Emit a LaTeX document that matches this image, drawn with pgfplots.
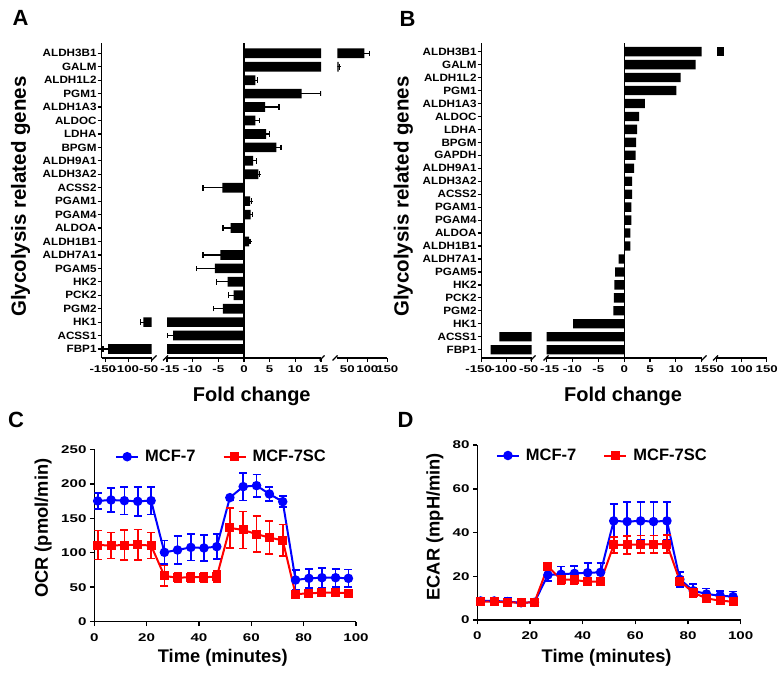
\documentclass[border=0pt]{standalone}
\usepackage{fontspec}
\setmainfont{Liberation Sans}
\newfontfamily\tickfont[FakeStretch=1.1]{Liberation Sans}
\newfontfamily\numfont[FakeStretch=1.35]{Liberation Sans}
\usepackage{pgfplots}
\usepackage{pgfplotstable}
\pgfplotsset{compat=1.18}
\newcommand{\tf}[1]{\tickfont\bfseries\fontsize{#1}{#1}\selectfont}
\newcommand{\nf}[1]{\numfont\bfseries\fontsize{#1}{#1}\selectfont}
\newcommand{\tl}[1]{\bfseries\fontsize{#1}{#1}\selectfont}

% fold change, panel A (with error bars)
\pgfplotstableread{
y val ep em
22 92.5 12.5 0
21 28 2 0
20 2.2 0.4 0
19 11.2 3.8 0
18 4.1 2.7 0
17 2.2 0.8 0
16 4.3 0.6 0
15 6.3 0.9 0
14 1.8 0.6 0
13 2.8 0.2 0
12 -4.2 0 3.8
11 1.2 0.2 0
10 1.3 0.3 0
9 -2.6 0 1.5
8 1.0 0.15 0
7 -4.6 0 3.4
6 -5.7 0 3.6
5 -3.2 0 2.1
4 -2.0 0 1.0
3 -4.1 0 1.9
2 -68 0 6
1 -13.8 0 1.2
0 -145 0 11
}\dataA

% fold change, panel B
\pgfplotstableread{
y val
23 65
22 13.8
21 10.9
20 10.1
19 4.0
18 2.9
17 2.5
16 2.3
15 2.2
14 1.9
13 1.55
12 1.55
11 1.4
10 1.4
9 1.2
8 1.2
7 -1.1
6 -1.75
5 -1.9
4 -2.0
3 -2.1
2 -9.9
1 -114.8
0 -132
}\dataB

% OCR
\pgfplotstableread{
t blue be red re
1.3 175.1 12 111.2 21
6.4 176.5 17 110.5 19
11.5 175.5 20 111.2 22
16.6 174.6 21 111.5 22
21.7 175.5 20 110.5 19
26.8 100.6 17 66.3 15
31.8 104.0 20 63.8 7
36.9 107.8 19 64.5 7
41.9 106.9 19 64.5 7
46.8 108.8 18 65.3 8
51.8 179.9 3 136 29
56.9 195.9 20 133 27
62.0 197.3 16 127 26
66.9 185.2 10 122 24
72.0 174.1 8 118 23
76.9 60.5 14 40.0 4
82.0 62.9 14 41.1 4
87.0 63.8 14 42.1 4
92.2 63.8 13 42.1 3
97.1 62.9 13 41.5 4
}\dataC

% ECAR
\pgfplotstableread{
t blue be red re
1.3 8.7 1 8.4 1
6.4 8.7 1 8.4 1
11.5 8.4 1.5 8.1 1
16.6 7.9 1.5 7.9 1
21.7 8.1 1 8.1 1
26.8 20.6 2.7 24.4 1
31.8 20.9 3.5 18.6 2
36.9 21.3 3.4 18.3 2
41.9 21.6 4.3 17.5 1.5
46.8 21.8 4.4 17.5 1.5
51.8 45.3 7.6 34.3 3.8
56.9 45.0 8.8 34.3 4
62.0 45.3 8.8 34.6 4
66.9 45.0 8.8 34.6 4
72.0 45.3 8.5 34.7 4
76.9 18.6 3.5 17.8 2
82.0 13.4 3 12.5 2
87.0 11.9 2.5 9.9 1.5
92.2 11.1 2.3 8.8 1.5
97.1 10.7 2.3 8.4 1.5
}\dataD

\pgfplotsset{
  seg/.style={scale only axis, anchor=south west, axis x line*=bottom,
    axis line style={line width=1.2pt, black}, tick style={line width=1.2pt, black},
    tick align=outside, major tick length=4pt,
    xticklabel style={font=\nf{9.8}, inner sep=1pt, yshift=-2.5pt}, yticklabel style={font=\tf{10.6}, inner sep=1pt},
    height=315.3pt},
  segA/.style={seg, ymin=-0.67, ymax=22.79},
  segB/.style={seg, ymin=-0.64, ymax=23.69},
  barsA/.style={xbar, fill=black, draw=none, bar width=0.72,
    error bars/.cd, x dir=both, x explicit,
    error bar style={line width=1.2pt, black},
    error mark options={rotate=90, line width=1.2pt, mark size=2.8pt, black}},
  barsB/.style={xbar, fill=black, draw=none, bar width=0.72},
  line/.style={scale only axis, anchor=south west, axis x line*=bottom, axis y line*=left,
    axis line style={line width=1.5pt, black}, tick style={line width=1.5pt, black},
    tick align=outside, major tick length=4.3pt,
    /pgf/number format/assume math mode=true,
    ticklabel style={font=\nf{11.2}},
    xticklabel style={yshift=-4pt},
    xmin=0, xmax=100, xtick={0,20,...,100},
    label style={font=\tl{18.3}},
    legend columns=2,
    legend style={draw=none, fill=none, inner sep=0pt, font=\tl{16.5},
      nodes={inner sep=0pt},
      /tikz/every odd column/.append style={column sep=6pt},
      /tikz/every even column/.append style={column sep=27pt}},
    legend image code/.code={\draw[mark repeat=2, mark phase=2, #1] plot coordinates {(0pt,0pt) (11pt,0pt) (22pt,0pt)};}},
  bl/.style={blue, line width=2pt, mark=*, mark size=3.7pt, mark options={solid},
    error bars/.cd, y dir=both, y explicit,
    error bar style={line width=1.7pt, blue}, error mark options={rotate=90, line width=1.7pt, mark size=4pt, blue}},
  rd/.style={red, line width=2pt, mark=square*, mark size=3.5pt, mark options={solid},
    error bars/.cd, y dir=both, y explicit,
    error bar style={line width=1.7pt, red}, error mark options={rotate=90, line width=1.7pt, mark size=4pt, red}},
}

\begin{document}
\begin{tikzpicture}
\path[use as bounding box] (0,0) rectangle (782pt,-679pt);

% ---------- A ----------
\begin{axis}[segA, at={(101.7pt,-358pt)}, width=50pt, axis y line*=left,
  xmin=-159, xmax=-50, xtick={-150,-100,-50}, xticklabels={-150,-100,-50},
  xticklabel style={xshift=-3pt},
  ytick={0,...,22},
  yticklabels={FBP1,ACSS1,HK1,PGM2,PCK2,HK2,PGAM5,ALDH7A1,ALDH1B1,ALDOA,PGAM4,PGAM1,ACSS2,ALDH3A2,ALDH9A1,BPGM,LDHA,ALDOC,ALDH1A3,PGM1,ALDH1L2,GALM,ALDH3B1}]
\addplot[restrict x to domain=-1000:-50, barsA] table[x=val, y=y, x error plus=ep, x error minus=em]{\dataA};
\end{axis}
\begin{axis}[segA, at={(167pt,-358pt)}, width=154pt, axis y line=none,
  xmin=-15, xmax=15, xtick={-15,-10,-5,0,5,10,15}, xticklabels={\hspace{6pt}-15,-10,-5,0,5,10,15}]
\addplot[barsA] table[x=val, y=y, x error plus=ep, x error minus=em]{\dataA};
\addplot[black, line width=1.2pt] coordinates {(0,-0.67) (0,22.79)};
\end{axis}
\begin{axis}[segA, at={(337.3pt,-358pt)}, width=50pt, axis y line=none,
  xmin=25, xmax=150, xtick={50,100,150}, xticklabels={50,100,150}]
\addplot[restrict x to domain=25:1000, barsA] table[x=val, y=y, x error plus=ep, x error minus=em]{\dataA};
\end{axis}

% ---------- B ----------
\begin{axis}[segB, at={(481.7pt,-358pt)}, width=50pt, axis y line*=left,
  xmin=-150, xmax=-50, xtick={-150,-100,-50}, xticklabels={-150,-100,-50},
  xticklabel style={xshift=-3pt},
  ytick={0,...,23},
  yticklabels={FBP1,ACSS1,HK1,PGM2,PCK2,HK2,PGAM5,ALDH7A1,ALDH1B1,ALDOA,PGAM4,PGAM1,ACSS2,ALDH3A2,ALDH9A1,GAPDH,BPGM,LDHA,ALDOC,ALDH1A3,PGM1,ALDH1L2,GALM,ALDH3B1}]
\addplot[restrict x to domain=-1000:-50, barsB] table[x=val, y=y]{\dataB};
\end{axis}
\begin{axis}[segB, at={(546.7pt,-358pt)}, width=155pt, axis y line=none,
  xmin=-15, xmax=15, xtick={-15,-10,-5,0,5,10,15}, xticklabels={\hspace{6pt}-15,-10,-5,0,5,10,15}]
\addplot[barsB] table[x=val, y=y]{\dataB};
\addplot[black, line width=1.2pt] coordinates {(0,-0.64) (0,23.69)};
\end{axis}
\begin{axis}[segB, at={(716.7pt,-358pt)}, width=50pt, axis y line=none,
  xmin=50, xmax=150, xtick={50,100,150}, xticklabels={50,100,150}]
\addplot[restrict x to domain=50:1000, barsB] table[x=val, y=y]{\dataB};
\end{axis}

% axis breaks
\foreach \bx in {151.5,163,319.5,332.5,530.5,543.5,701.5,713}
  \draw[line width=1.1pt] (\bx pt,-360.5pt) -- (\bx pt+5pt,-355.5pt);

\node[font=\tl{20}] at (251.7pt,-396.7pt) {Fold change};
\node[font=\tl{20}] at (623pt,-396.7pt) {Fold change};
\node[font=\tl{20.5}, rotate=90] at (20.7pt,-196.7pt) {Glycolysis related genes};
\node[font=\tl{20.5}, rotate=90] at (403.3pt,-196.7pt) {Glycolysis related genes};

% ---------- C ----------
\begin{axis}[line, at={(94.3pt,-621.7pt)}, width=261.7pt, height=172.4pt,
  ymin=0, ymax=250, ytick={0,50,...,250},
  xlabel={Time (minutes)}, ylabel={OCR (pmol/min)},
  xlabel style={at={(axis description cs:0.491,-0.212)}, anchor=center},
  ylabel style={at={(axis description cs:-0.195,0.542)}, anchor=center},
  legend style={at={(0.079,0.957)}, anchor=west}]
\addplot[bl] table[x=t, y=blue, y error=be]{\dataC};
\addplot[rd] table[x=t, y=red, y error=re]{\dataC};
\legend{MCF-7, MCF-7SC}
\end{axis}

% ---------- D ----------
\begin{axis}[line, at={(477.3pt,-620pt)}, width=263.4pt, height=175pt,
  ymin=0, ymax=80, ytick={0,20,...,80},
  xlabel={Time (minutes)}, ylabel={ECAR (mpH/min)},
  xlabel style={at={(axis description cs:0.491,-0.217)}, anchor=center},
  ylabel style={at={(axis description cs:-0.161,0.533)}, anchor=center},
  legend style={at={(0.07,0.94)}, anchor=west}]
\addplot[bl] table[x=t, y=blue, y error=be]{\dataD};
\addplot[rd] table[x=t, y=red, y error=re]{\dataD};
\legend{MCF-7, MCF-7SC}
\end{axis}

\node[font=\tl{22}] at (20.5pt,-18.3pt) {A};
\node[font=\tl{22}] at (407.5pt,-18.5pt) {B};
\node[font=\tl{22}] at (16pt,-420pt) {C};
\node[font=\tl{22}] at (405.5pt,-419.5pt) {D};
\end{tikzpicture}
\end{document}
